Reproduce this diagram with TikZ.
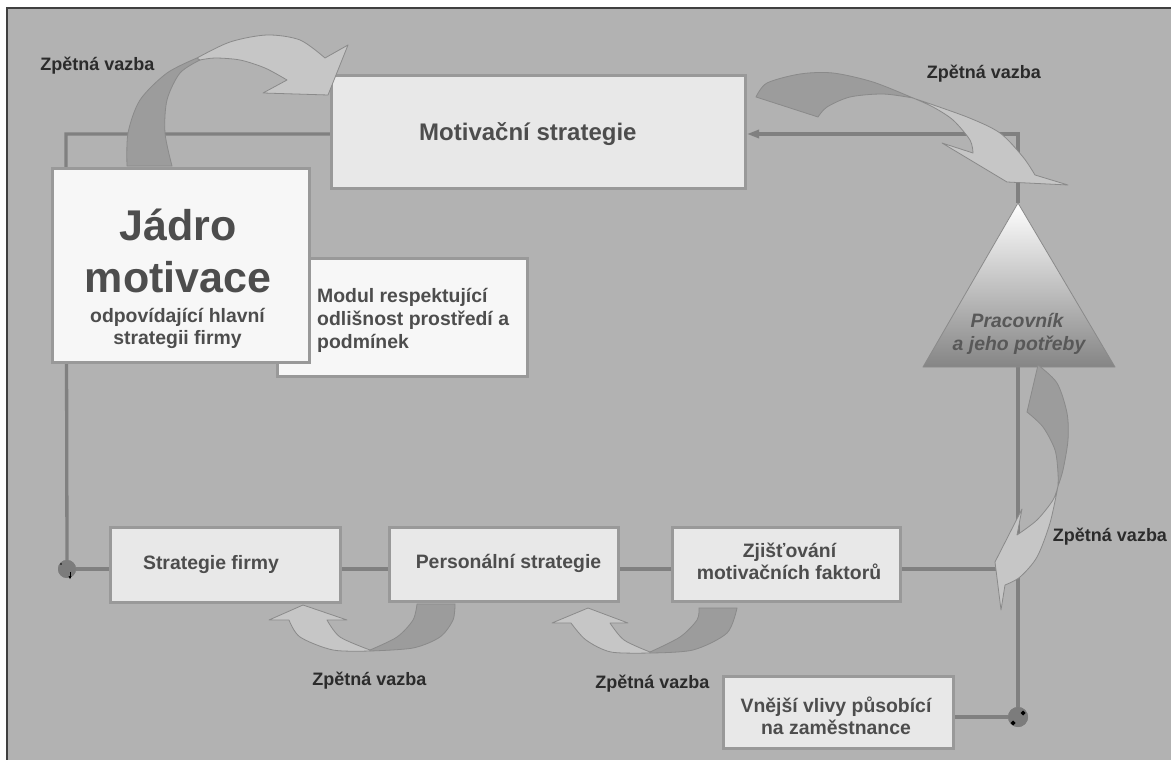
\documentclass[tikz,border=0pt]{standalone}
\usepackage{fontspec}
\setmainfont{Liberation Sans}
\usetikzlibrary{arrows.meta}
\definecolor{bg}{HTML}{B2B2B2}
\definecolor{frameline}{HTML}{404040}
\definecolor{conncol}{HTML}{808080}
\definecolor{boxline}{HTML}{999999}
\definecolor{boxfill}{HTML}{E8E8E8}
\definecolor{boxwhite}{HTML}{F7F7F7}
\definecolor{txtgray}{HTML}{4D4D4D}
\definecolor{lblgray}{HTML}{2B2B2B}
\definecolor{tritxt}{HTML}{585858}
\definecolor{dotcol}{HTML}{7C7C7C}
\definecolor{arrdark}{HTML}{9C9C9C}
\definecolor{arrlight}{HTML}{C6C6C6}
\definecolor{arredge}{HTML}{8A8A8A}
\definecolor{tribot}{HTML}{858585}
\tikzset{
  box/.style={draw=boxline, line width=3pt, fill=boxfill, inner sep=0pt, rectangle},
  conn/.style={draw=conncol, line width=3.3pt},
  junction/.style={circle, fill=dotcol, inner sep=0pt, minimum size=18pt},
  txt/.style={font=\bfseries\fontsize{19.4}{23}\selectfont, text=txtgray, inner sep=0pt, anchor=base},
  txtl/.style={txt, anchor=base west},
  bigtxt/.style={font=\bfseries\fontsize{43}{50}\selectfont, text=txtgray, inner sep=0pt, anchor=base},
  midtxt/.style={font=\bfseries\fontsize{24}{29}\selectfont, text=txtgray, inner sep=0pt, anchor=base west},
  tritext/.style={font=\bfseries\itshape\fontsize{19.4}{23}\selectfont, text=tritxt, inner sep=0pt, anchor=base},
  lbl/.style={font=\bfseries\fontsize{18}{21}\selectfont, text=lblgray, inner sep=0pt, anchor=base},
  darkpart/.style={fill=arrdark, draw=arredge, line width=0.8pt, line join=round},
  lightpart/.style={fill=arrlight, draw=arredge, line width=0.8pt, line join=round},
  blackmark/.style={fill=black}
}
\begin{document}
\begin{tikzpicture}[x=1pt,y=-1pt]
\useasboundingbox (0,0) rectangle (1171,760);
% background
\fill[white] (0,0) rectangle (1171,760);
\fill[bg] (7,8) rectangle (1171,760);
\draw[frameline, line width=1.5pt] (7,760) -- (7,8) -- (1171,8);

% coordinates of the frame corners
\coordinate (tl) at (66,134);
\coordinate (tr) at (1018,134);
\coordinate (triTop) at (1018,203);
\coordinate (triBot) at (1018,367);
\node[junction] (c1) at (67,569) {};
\node[junction, minimum size=20pt] (c2) at (1018,717) {};

% boxes (positions)
\node[box, minimum width=414pt, minimum height=113pt] (mot) at (538.5,132) {};
\node[box, minimum width=230pt, minimum height=75pt] (sf) at (225.5,564.5) {};
\node[box, minimum width=229pt, minimum height=74pt] (ps) at (503.5,564.5) {};
\node[box, minimum width=228pt, minimum height=74pt] (zj) at (786.5,564) {};
\node[box, minimum width=230pt, minimum height=72pt] (vv) at (838.5,712.5) {};

% connectors
\draw[conn] (tl -| mot.west) -- (tl) -- (c1.north);
\draw[conn] (c1) -- (c1 -| sf.west);
\draw[conn] (c1 -| sf.east) -- (c1 -| ps.west);
\draw[conn] (c1 -| ps.east) -- (c1 -| zj.west);
\draw[conn] (c1 -| zj.east) -- (c1 -| c2);
\draw[conn] (triBot) -- (c2.north);
\draw[conn] (c2 -| vv.east) -- (c2.west);
\draw[conn, -{Triangle[length=12pt,width=8pt]}] (triTop) -- (tr) -- (tr -| mot.east);

% junction dots redrawn on top of lines
\node[junction] (c1b) at (67,569) {};
\node[junction, minimum size=20pt] (c2b) at (1018,717) {};
\draw[black, line width=0.7pt] (70,572) -- (70,578);
\fill[blackmark] (68.5,576) -- (71.5,576) -- (70,579) -- cycle;
\fill[blackmark] (61,564) circle (0.9pt);
\fill[blackmark] (1023,710.5) -- (1025.5,713) -- (1023,715.5) -- (1020.5,713) -- cycle;
\fill[blackmark] (1013,720.5) -- (1015.5,723) -- (1013,725.5) -- (1010.5,723) -- cycle;

% boxes redrawn (filled on top of connectors)
\node[box, minimum width=414pt, minimum height=113pt] (motF) at (mot) {};
\node[box, minimum width=230pt, minimum height=75pt] (sfF) at (sf) {};
\node[box, minimum width=229pt, minimum height=74pt] (psF) at (ps) {};
\node[box, minimum width=228pt, minimum height=74pt] (zjF) at (zj) {};
\node[box, minimum width=230pt, minimum height=72pt] (vvF) at (vv) {};
\node[box, fill=boxwhite, minimum width=250pt, minimum height=118pt] (modul) at (402.5,317.5) {};
\node[box, fill=boxwhite, minimum width=257pt, minimum height=194pt] (jadro) at (181,265.5) {};

% triangle
\shade[top color=white, bottom color=tribot] (triTop) -- (1115,367) -- (923,367) -- cycle;
\draw[arredge, line width=0.8pt, line join=round] (triTop) -- (1115,367) -- (923,367) -- cycle;

% curved arrow: top left
\path[darkpart] (127,166) -- plot[smooth] coordinates {(127,166) (128,133) (140,100) (167,73) (197,58)}
  -- plot[smooth] coordinates {(200,60) (180,73) (167,100) (165,133) (172,166)} -- cycle;
\path[lightpart] (197,58) -- plot[smooth] coordinates {(197,58) (230,42) (267,35) (300,40) (325,58)}
  -- (348,45) -- (328,95) -- (263,93) -- (287,80)
  -- plot[smooth] coordinates {(287,80) (265,68) (240,60) (215,58) (200,60)} -- cycle;

% curved arrow: top right
\path[darkpart] (756,97) -- plot[smooth] coordinates {(756,97) (767,83) (800,74) (833,73) (873,82) (913,98)}
  -- plot[smooth] coordinates {(913,98) (883,94) (850,97) (827,107) (818,117)} -- cycle;
\path[lightpart] (913,98) -- plot[smooth] coordinates {(913,98) (967,117) (1000,133) (1023,157) (1035,175)}
  -- (1068,185) -- (1007,182) -- (942,143) -- (973,153)
  -- plot[smooth] coordinates {(973,153) (970,140) (953,120) (933,107) (913,98)} -- cycle;

% curved arrow: right
\path[darkpart] (1038,365) -- plot[smooth] coordinates {(1038,365) (1057,383) (1067,413) (1068,440) (1063,470) (1058,486)}
  -- plot[smooth] coordinates {(1058,486) (1058,473) (1055,450) (1043,427) (1027,412)} -- cycle;
\path[lightpart] (1058,486) -- plot[smooth] coordinates {(1058,486) (1050,523) (1037,557) (1020,577) (1005,585)}
  -- (1001,610) -- (995,562) -- (1022,509) -- (1017,535)
  -- plot[smooth] coordinates {(1017,535) (1037,520) (1053,500) (1058,486)} -- cycle;

% curved arrow: bottom left (Personalni -> Strategie firmy)
\path[darkpart] (455,604) -- plot[smooth] coordinates {(455,604) (453,620) (440,637) (413,648) (370,651)}
  -- plot[smooth] coordinates {(370,650) (397,637) (413,620) (417,604)} -- cycle;
\path[lightpart] (370,651) -- plot[smooth] coordinates {(370,651) (333,650) (300,637) (289,620)}
  -- (269,620) -- (303,605) -- (347,620) -- (327,620)
  -- plot[smooth] coordinates {(327,620) (340,637) (370,650)} -- cycle;

% curved arrow: bottom middle (Zjistovani -> Personalni)
\path[darkpart] (737,608) -- plot[smooth] coordinates {(737,608) (727,633) (693,650) (650,653)}
  -- plot[smooth] coordinates {(650,652) (680,637) (697,620) (699,608)} -- cycle;
\path[lightpart] (650,653) -- plot[smooth] coordinates {(650,653) (611,652) (586,640) (571,623)}
  -- (552,623) -- (588,608) -- (628,623) -- (610,623)
  -- plot[smooth] coordinates {(610,623) (624,640) (650,652)} -- cycle;

% texts
\node[midtxt] (motT) at (419,140) {Motivační strategie};
\node[bigtxt] (j1) at (178,240) {Jádro};
\node[bigtxt] (j2) at (178,292) {motivace};
\node[txt] (j3) at (177.5,322) {odpovídající hlavní};
\node[txt] (j4) at (177.5,344) {strategii firmy};
\node[txtl] (m1) at (317,302) {Modul respektující};
\node[txtl] (m2) at (317,325) {odlišnost prostředí a};
\node[txtl] (m3) at (317,348) {podmínek};
\node[txt] (sfT) at (211,569) {Strategie firmy};
\node[txt] (psT) at (508.5,568) {Personální strategie};
\node[txt] (zj1) at (789.5,557) {Zjišťování};
\node[txt] (zj2) at (789,579) {motivačních faktorů};
\node[txt] (vv1) at (836,712) {Vnější vlivy působící};
\node[txt] (vv2) at (836,734) {na zaměstnance};
\node[tritext] (t1) at (1017,327) {Pracovník};
\node[tritext] (t2) at (1019,350) {a jeho potřeby};

% feedback labels
\node[lbl] (fb1) at (97.5,71) {Zpětná vazba};
\node[lbl] (fb2) at (984,79) {Zpětná vazba};
\node[lbl] (fb3) at (1110,541) {Zpětná vazba};
\node[lbl] (fb4) at (369.5,685) {Zpětná vazba};
\node[lbl] (fb5) at (652.5,688) {Zpětná vazba};
\end{tikzpicture}
\end{document}
